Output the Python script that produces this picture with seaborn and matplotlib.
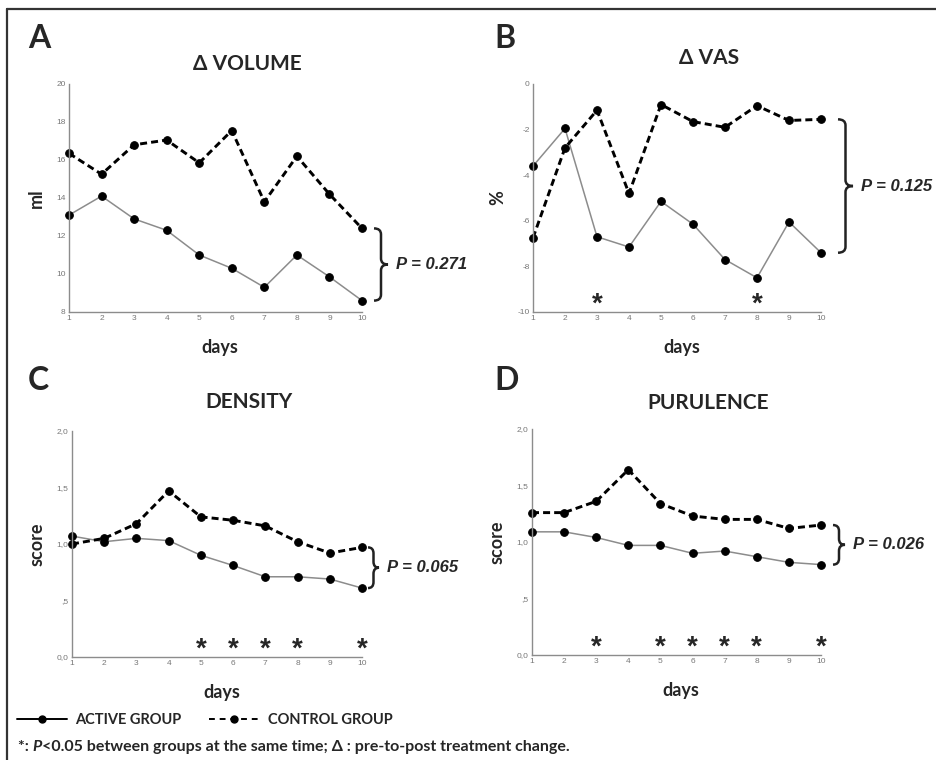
import numpy as np
import pandas as pd
import seaborn as sns
import matplotlib.pyplot as plt
from matplotlib.path import Path
from matplotlib.patches import PathPatch
from matplotlib.lines import Line2D
from matplotlib.transforms import IdentityTransform

days = list(range(1, 11))

vol_active = [13.1, 14.1, 12.9, 12.3, 11.0, 10.3, 9.3, 11.0, 9.85, 8.6]
vol_control = [16.35, 15.25, 16.8, 17.05, 15.85, 17.55, 13.8, 16.2, 14.2, 12.4]
vas_active = [-3.6, -1.95, -6.7, -7.15, -5.15, -6.15, -7.7, -8.5, -6.05, -7.4]
vas_control = [-6.75, -2.8, -1.15, -4.8, -0.9, -1.65, -1.9, -0.95, -1.6, -1.55]
dens_active = [1.07, 1.02, 1.05, 1.03, 0.90, 0.81, 0.71, 0.71, 0.69, 0.61]
dens_control = [1.0, 1.05, 1.18, 1.47, 1.24, 1.21, 1.16, 1.02, 0.92, 0.97]
pur_active = [1.09, 1.09, 1.04, 0.97, 0.97, 0.90, 0.92, 0.87, 0.82, 0.80]
pur_control = [1.26, 1.26, 1.36, 1.64, 1.34, 1.23, 1.20, 1.20, 1.12, 1.15]

vol_ticks = [8, 10, 12, 14, 16, 18, 20]
vas_ticks = [-10, -8, -6, -4, -2, 0]
score_ticks = [0.0, 0.5, 1.0, 1.5, 2.0]
score_ticklabels = ['0,0', ',5', '1,0', '1,5', '2,0']

vas_stars = [3, 8]
dens_stars = [5, 6, 7, 8, 10]
pur_stars = [3, 5, 6, 7, 8, 10]

p_values = ['0.271', '0.125', '0.065', '0.026']

sns.set_style('white')
plt.rcParams['font.family'] = ['Lato', 'DejaVu Sans']
plt.rcParams['mathtext.fontset'] = 'custom'
plt.rcParams['mathtext.bf'] = 'Liberation Sans:bold'
plt.rcParams['mathtext.rm'] = 'Liberation Sans'

W, H = 936, 760
fig = plt.figure(figsize=(W / 100, H / 100), dpi=100)


def px(x0, y0, x1, y1):
    # pixel box -> figure fraction rect
    return [x0 / W, 1 - y1 / H, (x1 - x0) / W, (y1 - y0) / H]


panels = [
    dict(letter='A', lpos=(28, 24), title='Δ VOLUME', ty=1.044, ylabel='ml', act=vol_active, ctl=vol_control,
         ylim=(8, 20), ticks=vol_ticks, labels=[str(t) for t in vol_ticks], stars=[],
         rect=px(69, 84, 362, 312), boff=12, bw=14),
    dict(letter='B', lpos=(494, 24), title='Δ VAS', ty=1.07, ylabel='%', act=vas_active, ctl=vas_control,
         ylim=(-10, 0), ticks=vas_ticks, labels=[str(t) for t in vas_ticks], stars=vas_stars,
         rect=px(533, 84, 821, 312), boff=17, bw=15),
    dict(letter='C', lpos=(28, 366), title='DENSITY', ty=1.083, ylabel='score', act=dens_active, ctl=dens_control,
         ylim=(0, 2), ticks=score_ticks, labels=score_ticklabels, stars=dens_stars,
         rect=px(72, 431, 362, 657), boff=6, bw=11),
    dict(letter='D', lpos=(494, 366), title='PURULENCE', ty=1.07, ylabel='score', act=pur_active, ctl=pur_control,
         ylim=(0, 2), ticks=score_ticks, labels=score_ticklabels, stars=pur_stars,
         rect=px(532, 429, 821, 655), boff=12, bw=12),
]


def brace(ax, yvals, off, w):
    x_end = ax.transData.transform((days[-1], max(yvals)))[0] + off
    yt = ax.transData.transform((days[-1], max(yvals)))[1]
    yb = ax.transData.transform((days[-1], min(yvals)))[1]
    ym = (yt + yb) / 2
    h = w / 2
    r = min(6, (yt - yb) / 4)
    verts = [(x_end, yt), (x_end + h, yt), (x_end + h, yt - r),
             (x_end + h, ym + r), (x_end + h, ym), (x_end + w, ym),
             (x_end + h, ym), (x_end + h, ym - r),
             (x_end + h, yb + r), (x_end + h, yb), (x_end, yb)]
    codes = [Path.MOVETO, Path.CURVE3, Path.CURVE3,
             Path.LINETO, Path.CURVE3, Path.CURVE3,
             Path.CURVE3, Path.CURVE3,
             Path.LINETO, Path.CURVE3, Path.CURVE3]
    patch = PathPatch(Path(verts, codes), fill=False, lw=1.8, ec='#222222',
                      transform=IdentityTransform())
    fig.add_artist(patch)
    return x_end + w, ym


for i, p in enumerate(panels):
    ax = fig.add_axes(p['rect'])
    df = pd.DataFrame({'days': days, 'active': p['act'], 'control': p['ctl']})
    sns.lineplot(data=df, x='days', y='active', ax=ax, color='#8c8c8c', lw=1.1,
                 marker='o', ms=5.5, mfc='black', mec='black', clip_on=False)
    sns.lineplot(data=df, x='days', y='control', ax=ax, color='black', lw=2.1,
                 linestyle=(0, (2.4, 1.4)), marker='o', ms=5.5, mfc='black', mec='black',
                 clip_on=False)
    ax.set_xlim(1, 10)
    ax.set_ylim(*p['ylim'])
    ax.set_xticks(days)
    ax.set_xticklabels([str(d) for d in days])
    ax.set_yticks(p['ticks'])
    ax.set_yticklabels(p['labels'])
    for lab in ax.get_xticklabels() + ax.get_yticklabels():
        lab.set_family('Liberation Sans')
    ax.tick_params(length=0, labelsize=6, labelcolor='#777777', pad=2.5)
    sns.despine(ax=ax)
    for s in ['left', 'bottom']:
        ax.spines[s].set_color('#8c8c8c')
        ax.spines[s].set_linewidth(1.0)
    ax.set_xlabel('days', fontsize=13, fontweight='bold', labelpad=12, x=0.515)
    ax.set_ylabel(p['ylabel'], fontsize=13, fontweight='bold', labelpad=8)
    ax.text(0.61, p['ty'], p['title'], transform=ax.transAxes, ha='center', va='bottom',
            fontsize=15, fontweight='bold')
    for d in p['stars']:
        ax.annotate(r'$\mathbf{*}$', xy=(d, p['ylim'][0]), xytext=(0, 6.5), textcoords='offset points',
                    ha='center', va='center', fontsize=20, annotation_clip=False)
    fig.text(p['lpos'][0] / W, 1 - p['lpos'][1] / H, p['letter'], ha='left', va='top',
             fontsize=23, fontweight='bold')
    tx, ty = brace(ax, [p['act'][-1], p['ctl'][-1]], p['boff'], p['bw'])
    fig.text(tx + 8, ty, 'P = ' + p_values[i], transform=IdentityTransform(),
             ha='left', va='center', fontsize=12, fontweight='bold', style='italic',
             family='Liberation Sans')

# outer frame (top and left only)
fig.add_artist(Line2D([7 / W, 7 / W], [0, 1 - 9 / H], color='#333333', lw=1.6))
fig.add_artist(Line2D([7 / W, 1], [1 - 9 / H, 1 - 9 / H], color='#333333', lw=1.6))

handles = [Line2D([], [], color='black', lw=1.4, marker='o', ms=5),
           Line2D([], [], color='black', lw=1.4, ls=(0, (3, 2.5)), marker='o', ms=5)]
fig.legend(handles, ['ACTIVE GROUP', 'CONTROL GROUP'], loc='center left',
           bbox_to_anchor=(4 / W, 1 - 720 / H), ncol=2, frameon=False,
           handlelength=3.4, columnspacing=1.9, handletextpad=0.6,
           prop=dict(weight='bold', size=10.5))

# footnote with italic P
fig.canvas.draw()
renderer = fig.canvas.get_renderer()
x = 18 / W
y = 1 - 747 / H
pieces = [('*: ', 'normal'), ('P', 'italic'),
          ('<0.05 between groups at the same time; Δ : pre-to-post treatment change.', 'normal')]
for txt, st in pieces:
    t = fig.text(x, y, txt, ha='left', va='center', fontsize=11.5, fontweight='bold', style=st)
    bb = t.get_window_extent(renderer)
    x = bb.x1 / W

fig.savefig('out.png', dpi=100)
